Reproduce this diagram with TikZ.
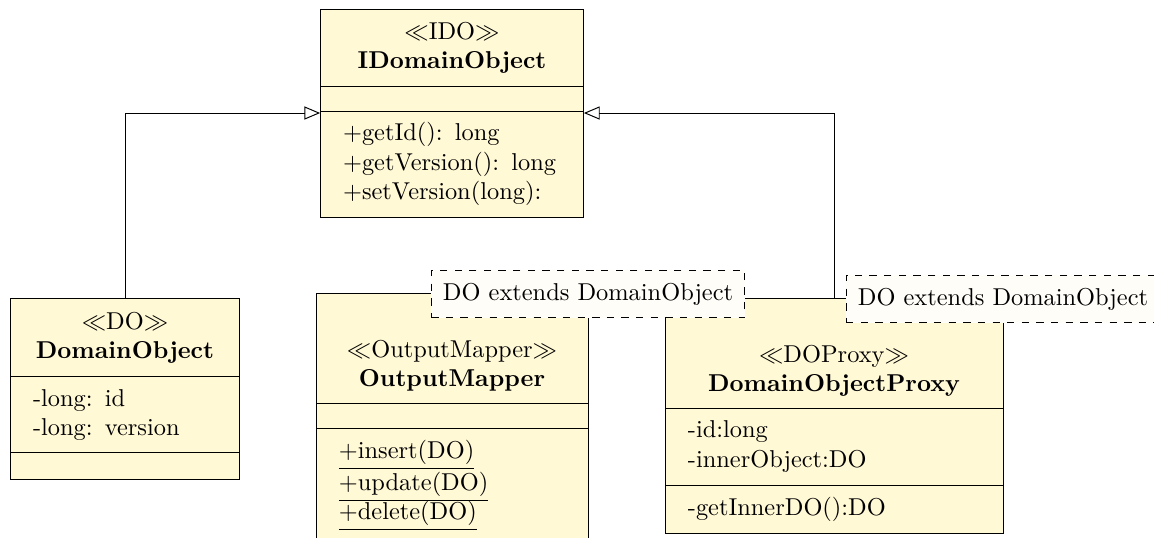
\documentclass[tikz,border=0pt]{standalone}
\usepackage{xcolor}
\usepackage{tikz}
\usetikzlibrary{arrows.meta, positioning, fit}

\definecolor{umlfill}{RGB}{255,249,214}
\definecolor{tmplfill}{RGB}{255,253,248}

\begin{document}
\begin{tikzpicture}[
  part/.style={draw=black, fill=umlfill, outer sep=0pt, inner xsep=0.33cm,
               inner ysep=0pt, text width=#1, align=left},
  titlepart/.style={part=#1, align=center},
  tmplbox/.style={draw=black, dashed, fill=tmplfill, outer sep=0pt, inner sep=0pt,
                  minimum width=4.52cm, minimum height=0.68cm},
  genarrow/.style={-{Triangle[open, length=6.5pt, width=5.4pt]}, draw=black},
  classbox/.style={fit=#1, inner sep=0pt, outer sep=0pt},
]
\useasboundingbox (0,0) rectangle (16.628,7.752);

%% -- interface IDomainObject ---------------------------------------------
\node[titlepart=3.14cm, minimum height=1.11cm, anchor=north] (ido)
  at (6.513,7.622) {$\ll$IDO$\gg$\\ \textbf{IDomainObject}};
\node[part=3.14cm, minimum height=0.36cm, below=0pt of ido] (ido-attr) {};
\node[part=3.14cm, minimum height=1.527cm, below=0pt of ido-attr] (ido-ops)
  {+getId(): long\\ +getVersion(): long\\ +setVersion(long):};
\node[classbox={(ido)(ido-ops)}] (ido-box) {};

%% -- class DomainObject --------------------------------------------------
\node[titlepart=2.65cm, minimum height=1.138cm, anchor=north] (dobj)
  at (1.801,3.458) {$\ll$DO$\gg$\\ \textbf{DomainObject}};
\node[part=2.65cm, minimum height=1.095cm, below=0pt of dobj] (dobj-attr)
  {-long: id\\ -long: version};
\node[part=2.65cm, minimum height=0.375cm, below=0pt of dobj-attr] (dobj-ops) {};

%% -- class OutputMapper (template DO) ------------------------------------
\node[titlepart=3.26cm, minimum height=1.571cm, anchor=north] (mapper)
  at (6.513,3.516)
  {\rule{0pt}{21pt}$\ll$OutputMapper$\gg$\\ \textbf{OutputMapper}};
\node[part=3.26cm, minimum height=0.36cm, below=0pt of mapper] (mapper-attr) {};
\node[part=3.26cm, minimum height=1.66cm, below=0pt of mapper-attr] (mapper-ops)
  {\setlength{\baselineskip}{13.1pt}%
   \underline{+insert(DO)}\\ \underline{+update(DO)}\\ \underline{+delete(DO)}};

%% -- class DomainObjectProxy (template DO) -------------------------------
\node[titlepart=4.21cm, minimum height=1.571cm, anchor=north] (proxy)
  at (12.017,3.444)
  {\rule{0pt}{21pt}$\ll$DOProxy$\gg$\\ \textbf{DomainObjectProxy}};
\node[part=4.21cm, minimum height=1.11cm, below=0pt of proxy] (proxy-attr)
  {-id:long\\ -innerObject:DO};
\node[part=4.21cm, minimum height=0.692cm, below=0pt of proxy-attr] (proxy-ops)
  {-getInnerDO():DO};

%% -- template parameters -------------------------------------------------
\node[tmplbox] (mapper-tmpl) at (mapper.north east) {DO extends DomainObject};
\node[tmplbox] (proxy-tmpl) at (proxy.north east) {DO extends DomainObject};

%% -- realisation arrows --------------------------------------------------
\draw[genarrow] (dobj.north) |- (ido-box.west);
\draw[genarrow] (proxy.north) |- (ido-box.east);

\end{tikzpicture}
\end{document}
